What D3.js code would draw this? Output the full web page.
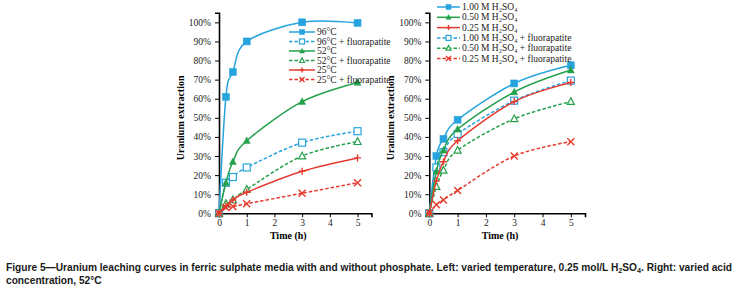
<!DOCTYPE html>
<html>
<head>
<meta charset="utf-8">
<script src="https://cdn.jsdelivr.net/npm/d3@7"></script>
<style>
  body { margin: 0; background: #fff; }
  svg { display: block; }
  .tick text { font-family: "Liberation Serif", "Times New Roman", serif; font-size: 9.5px; fill: #222; }
</style>
</head>
<body>
<svg id="fig" width="739" height="289"></svg>
<script>
// time points (h)
const hours = [0, 0.25, 0.5, 1, 3, 5];
const xTicks = [0, 1, 2, 3, 4, 5];
const yTicks = [0, 0.1, 0.2, 0.3, 0.4, 0.5, 0.6, 0.7, 0.8, 0.9, 1.0];

// left panel: temperature series (fraction extracted)
const t96 = [0, 0.61, 0.74, 0.90, 1.00, 0.997];
const t96F = [0, 0.16, 0.19, 0.24, 0.37, 0.43];
const t52 = [0, 0.16, 0.27, 0.38, 0.585, 0.685];
const t52F = [0, 0.05, 0.07, 0.125, 0.30, 0.375];
const t25 = [0, 0.04, 0.07, 0.11, 0.22, 0.29];
const t25F = [0, 0.03, 0.035, 0.05, 0.105, 0.16];

// right panel: acid concentration series
const a100 = [0, 0.30, 0.39, 0.49, 0.68, 0.775];
const a050 = [0, 0.22, 0.33, 0.44, 0.635, 0.75];
const a025 = [0, 0.17, 0.27, 0.38, 0.585, 0.685];
const a100F = [0, 0.24, 0.32, 0.415, 0.59, 0.695];
const a050F = [0, 0.14, 0.225, 0.33, 0.495, 0.585];
const a025F = [0, 0.045, 0.07, 0.12, 0.30, 0.375];

const leftNames = ["96°C", "96°C + fluorapatite", "52°C", "52°C + fluorapatite", "25°C", "25°C + fluorapatite"];
const rightNames = ["1.00 M H₂SO₄", "1.00 M H₂SO₄ + fluorapatite", "0.50 M H₂SO₄", "0.50 M H₂SO₄ + fluorapatite", "0.25 M H₂SO₄", "0.25 M H₂SO₄ + fluorapatite"];

const BLUE = "#27a3dd", GREEN = "#23a04b", RED = "#e53b2f";

const svg = d3.select("#fig");

// marker drawing
function drawMarker(g, kind, color, x, y, s) {
  const h = s / 2;
  if (kind == "sq" || kind == "sqo") {
    g.append("rect").attr("x", x - h).attr("y", y - h).attr("width", s).attr("height", s)
      .attr("fill", kind == "sq" ? color : "#fff").attr("stroke", color).attr("stroke-width", kind == "sq" ? 0.5 : 1.2);
  } else if (kind == "tri" || kind == "trio") {
    const pts = [[x, y - h * 1.1], [x + h, y + h * 0.8], [x - h, y + h * 0.8]];
    g.append("polygon").attr("points", pts.join(" "))
      .attr("fill", kind == "tri" ? color : "#fff").attr("stroke", color).attr("stroke-width", kind == "tri" ? 0.5 : 1.2);
  } else if (kind == "plus") {
    g.append("path").attr("d", `M${x - h},${y}H${x + h}M${x},${y - h}V${y + h}`)
      .attr("stroke", color).attr("stroke-width", 1.4).attr("fill", "none");
  } else if (kind == "x") {
    g.append("path").attr("d", `M${x - h},${y - h}L${x + h},${y + h}M${x + h},${y - h}L${x - h},${y + h}`)
      .attr("stroke", color).attr("stroke-width", 1.4).attr("fill", "none");
  }
}

function panel(cfg) {
  const x = d3.scaleLinear().domain([0, 5.5]).range([cfg.x0, cfg.x1]);
  const y = d3.scaleLinear().domain([0, 1.05]).range([213.3, 12.8]);
  const g = svg.append("g");

  // axes
  const ya = g.append("g").attr("transform", `translate(${cfg.x0},0)`)
    .call(d3.axisLeft(y).tickValues(yTicks).tickFormat(d3.format(".0%")).tickSize(4).tickPadding(4));
  const xa = g.append("g").attr("transform", "translate(0,213.3)")
    .call(d3.axisBottom(x).tickValues(xTicks).tickFormat(d3.format("d")).tickSize(4).tickPadding(2));
  [ya, xa].forEach(a => {
    a.select(".domain").attr("stroke", "#000").attr("stroke-width", 1.6);
    a.selectAll(".tick line").attr("stroke", "#000").attr("stroke-width", 1);
  });

  // axis titles
  g.append("text").attr("transform", `translate(${cfg.ylabX},${y(0.5)}) rotate(-90)`)
    .attr("text-anchor", "middle").attr("font-family", "Liberation Serif, serif")
    .attr("font-weight", "bold").attr("font-size", 10).text("Uranium extraction");
  g.append("text").attr("x", x(2.5)).attr("y", 238.5).attr("text-anchor", "middle")
    .attr("font-family", "Liberation Serif, serif").attr("font-weight", "bold").attr("font-size", 10)
    .text("Time (h)");

  const line = d3.line().x((d, i) => x(hours[i])).y(d => y(d)).curve(d3.curveCardinal.tension(0));

  // series drawn in order
  cfg.series.forEach(s => {
    g.append("path").attr("d", line(s.vals)).attr("fill", "none").attr("stroke", s.color)
      .attr("stroke-width", 1.5).attr("stroke-dasharray", s.dash ? "3.5,2" : null);
    s.vals.forEach((v, i) => drawMarker(g, s.mk, s.color, x(hours[i]), y(v), 7));
  });

  // legend
  const lg = g.append("g");
  cfg.legend.forEach((s, i) => {
    const ly = cfg.legY[i];
    lg.append("line").attr("x1", cfg.legX0).attr("x2", cfg.legX1).attr("y1", ly).attr("y2", ly)
      .attr("stroke", s.color).attr("stroke-width", 1.5).attr("stroke-dasharray", s.dash ? "3.5,2" : null);
    drawMarker(lg, s.mk, s.color, (cfg.legX0 + cfg.legX1) / 2, ly, 5);
    lg.append("text").attr("x", cfg.legX1 + 2).attr("y", ly + 3).attr("font-family", "Liberation Serif, serif")
      .attr("font-size", 9.5).attr("fill", "#222").text(s.name);
  });
}

const leftSeries = [
  { vals: t96, color: BLUE, mk: "sq", dash: false, name: leftNames[0] },
  { vals: t96F, color: BLUE, mk: "sqo", dash: true, name: leftNames[1] },
  { vals: t52, color: GREEN, mk: "tri", dash: false, name: leftNames[2] },
  { vals: t52F, color: GREEN, mk: "trio", dash: true, name: leftNames[3] },
  { vals: t25, color: RED, mk: "plus", dash: false, name: leftNames[4] },
  { vals: t25F, color: RED, mk: "x", dash: true, name: leftNames[5] }
];
panel({
  x0: 219, x1: 371.4, ylabX: 184,
  series: leftSeries, legend: leftSeries,
  legX0: 289, legX1: 315, legY: [32, 41.5, 51, 60.5, 70, 79.5]
});

const rightSeries = [
  { vals: a100, color: BLUE, mk: "sq", dash: false, name: rightNames[0] },
  { vals: a100F, color: BLUE, mk: "sqo", dash: true, name: rightNames[1] },
  { vals: a050, color: GREEN, mk: "tri", dash: false, name: rightNames[2] },
  { vals: a050F, color: GREEN, mk: "trio", dash: true, name: rightNames[3] },
  { vals: a025, color: RED, mk: "plus", dash: false, name: rightNames[4] },
  { vals: a025F, color: RED, mk: "x", dash: true, name: rightNames[5] }
];
panel({
  x0: 429.3, x1: 585, ylabX: 394,
  series: rightSeries,
  legend: [rightSeries[0], rightSeries[2], rightSeries[4], rightSeries[1], rightSeries[3], rightSeries[5]],
  legX0: 437, legX1: 460, legY: [7, 17.3, 27.6, 37.9, 48.2, 58.5]
});

// caption - squeezed horizontally to the reference's condensed face
const cap = svg.append("g").attr("font-family", "Liberation Sans, Arial, sans-serif")
  .attr("font-weight", "bold").attr("font-size", 10.5).attr("fill", "#1a1a1a");
const c1 = cap.append("text").attr("x", 0).attr("y", 271);
c1.append("tspan").text("Figure 5\u2014Uranium leaching curves in ferric sulphate media with and without phosphate. Left: varied temperature, 0.25 mol/L H");
c1.append("tspan").attr("font-size", 7.5).attr("dy", 2.5).text("2");
c1.append("tspan").attr("dy", -2.5).text("SO");
c1.append("tspan").attr("font-size", 7.5).attr("dy", 2.5).text("4");
c1.append("tspan").attr("dy", -2.5).text(". Right: varied acid");
cap.append("text").attr("x", 0).attr("y", 284.5).text("concentration, 52°C");
const w = c1.node().getComputedTextLength();
cap.attr("transform", `translate(6,0) scale(${727 / w},1)`);
</script>
</body>
</html>
